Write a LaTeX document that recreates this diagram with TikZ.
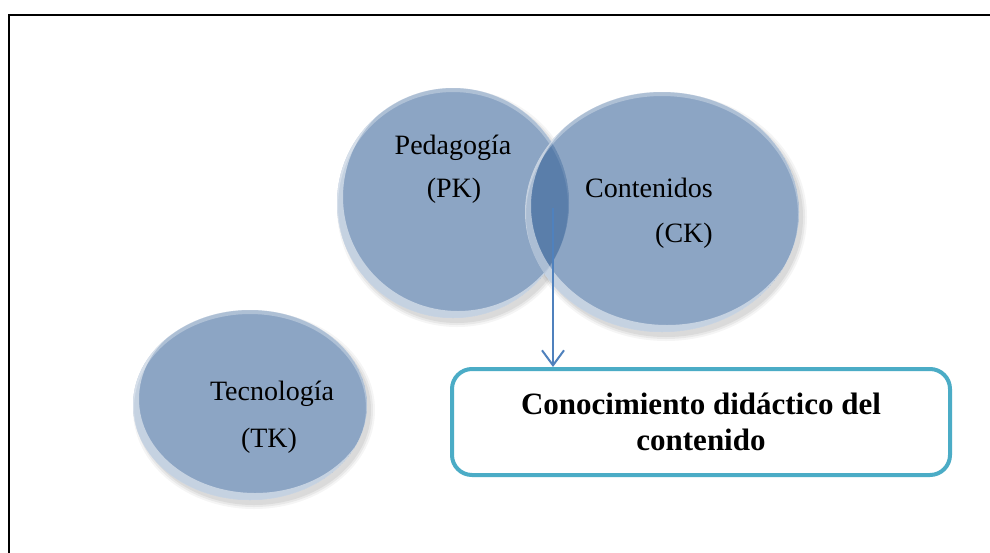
\documentclass[tikz,border=0pt]{standalone}
\usepackage{fontspec}
\setmainfont{Liberation Serif}
\usetikzlibrary{arrows.meta,shapes.geometric}
\definecolor{blobc}{RGB}{51,96,151}
\definecolor{boxc}{RGB}{75,172,198}
\definecolor{arrc}{RGB}{79,129,189}
\newcommand\blobshadow[3]{%
  \foreach \k/\o in {4/0.04,2/0.05,0/0.06}{%
    \fill[black,opacity=\o] ([shift={(4,5)}]#1) ellipse [x radius={(#2+\k)*1pt}, y radius={(#3+\k)*1pt}];}}
\newcommand\blobwhite[3]{%
  \fill[white] (#1) ellipse [x radius={#2*1pt}, y radius={#3*1pt}];}
\newcommand\blobgloss[3]{%
  \begin{scope}
    \clip (#1) ellipse [x radius={#2*1pt}, y radius={#3*1pt}];
    \fill[white,opacity=0.5,even odd rule] (#1) ellipse [x radius={#2*1pt}, y radius={#3*1pt}]
      ([shift={(5,-6)}]#1) ellipse [x radius={(#2-1)*1pt}, y radius={(#3-1)*1pt}];
    \fill[white,opacity=0.3,even odd rule] (#1) ellipse [x radius={#2*1pt}, y radius={#3*1pt}]
      ([shift={(0,3)}]#1) ellipse [x radius={(#2-1)*1pt}, y radius={(#3-1)*1pt}];
  \end{scope}}
\begin{document}
\begin{tikzpicture}[x=1pt,y=-1pt,
  blob/.style={ellipse, inner sep=0pt, fill=blobc, fill opacity=0.56},
  lbl/.style={font=\fontsize{28}{33}\selectfont, inner sep=0pt, anchor=base},
  resultbox/.style={draw=boxc, line width=4pt, rounded corners=20pt, fill=white,
    minimum width=498pt, minimum height=106pt, align=center,
    font=\fontsize{31}{36}\selectfont\bfseries},
  conn/.style={draw=arrc, line width=2pt, -{Straight Barb[length=15pt,width=22pt]}}]
\useasboundingbox (0,0) rectangle (990,552);
\fill[white] (0,0) rectangle (990,552);
\draw[line width=2.8pt] (9,570) -- (9,15) -- (1010,15);
% centres
\coordinate (cPed) at (453,203);
\coordinate (cCon) at (662,212);
\coordinate (cTec) at (250,405);
% shadows and white under-fills
\blobshadow{cPed}{116}{115}
\blobshadow{cCon}{137}{120}
\blobshadow{cTec}{117}{95}
\blobwhite{cPed}{116}{115}
\blobwhite{cCon}{137}{120}
\blobwhite{cTec}{117}{95}
% blobs
\node[blob, minimum width=232pt, minimum height=230pt] (ped) at (cPed) {};
\blobgloss{cPed}{116}{115}
\node[blob, minimum width=274pt, minimum height=240pt] (con) at (cCon) {};
\blobgloss{cCon}{137}{120}
\node[blob, minimum width=234pt, minimum height=190pt] (tec) at (cTec) {};
\blobgloss{cTec}{117}{95}
% labels
\node[lbl] (tPed) at (453,154) {Pedagogía};
\node[lbl] (tPK) at (454,197) {(PK)};
\node[lbl] (tCon) at (649,197) {Contenidos};
\node[lbl] (tCK) at (684,242) {(CK)};
\node[lbl] (tTec) at (272,400) {Tecnología};
\node[lbl] (tTK) at (269,447) {(TK)};
% result box and arrow
\node[resultbox] (box) at (701,422) {Conocimiento didáctico del\\contenido};
\coordinate (arrS) at (553,208);
\draw[conn] (arrS) -- (arrS |- box.north);
\end{tikzpicture}
\end{document}
